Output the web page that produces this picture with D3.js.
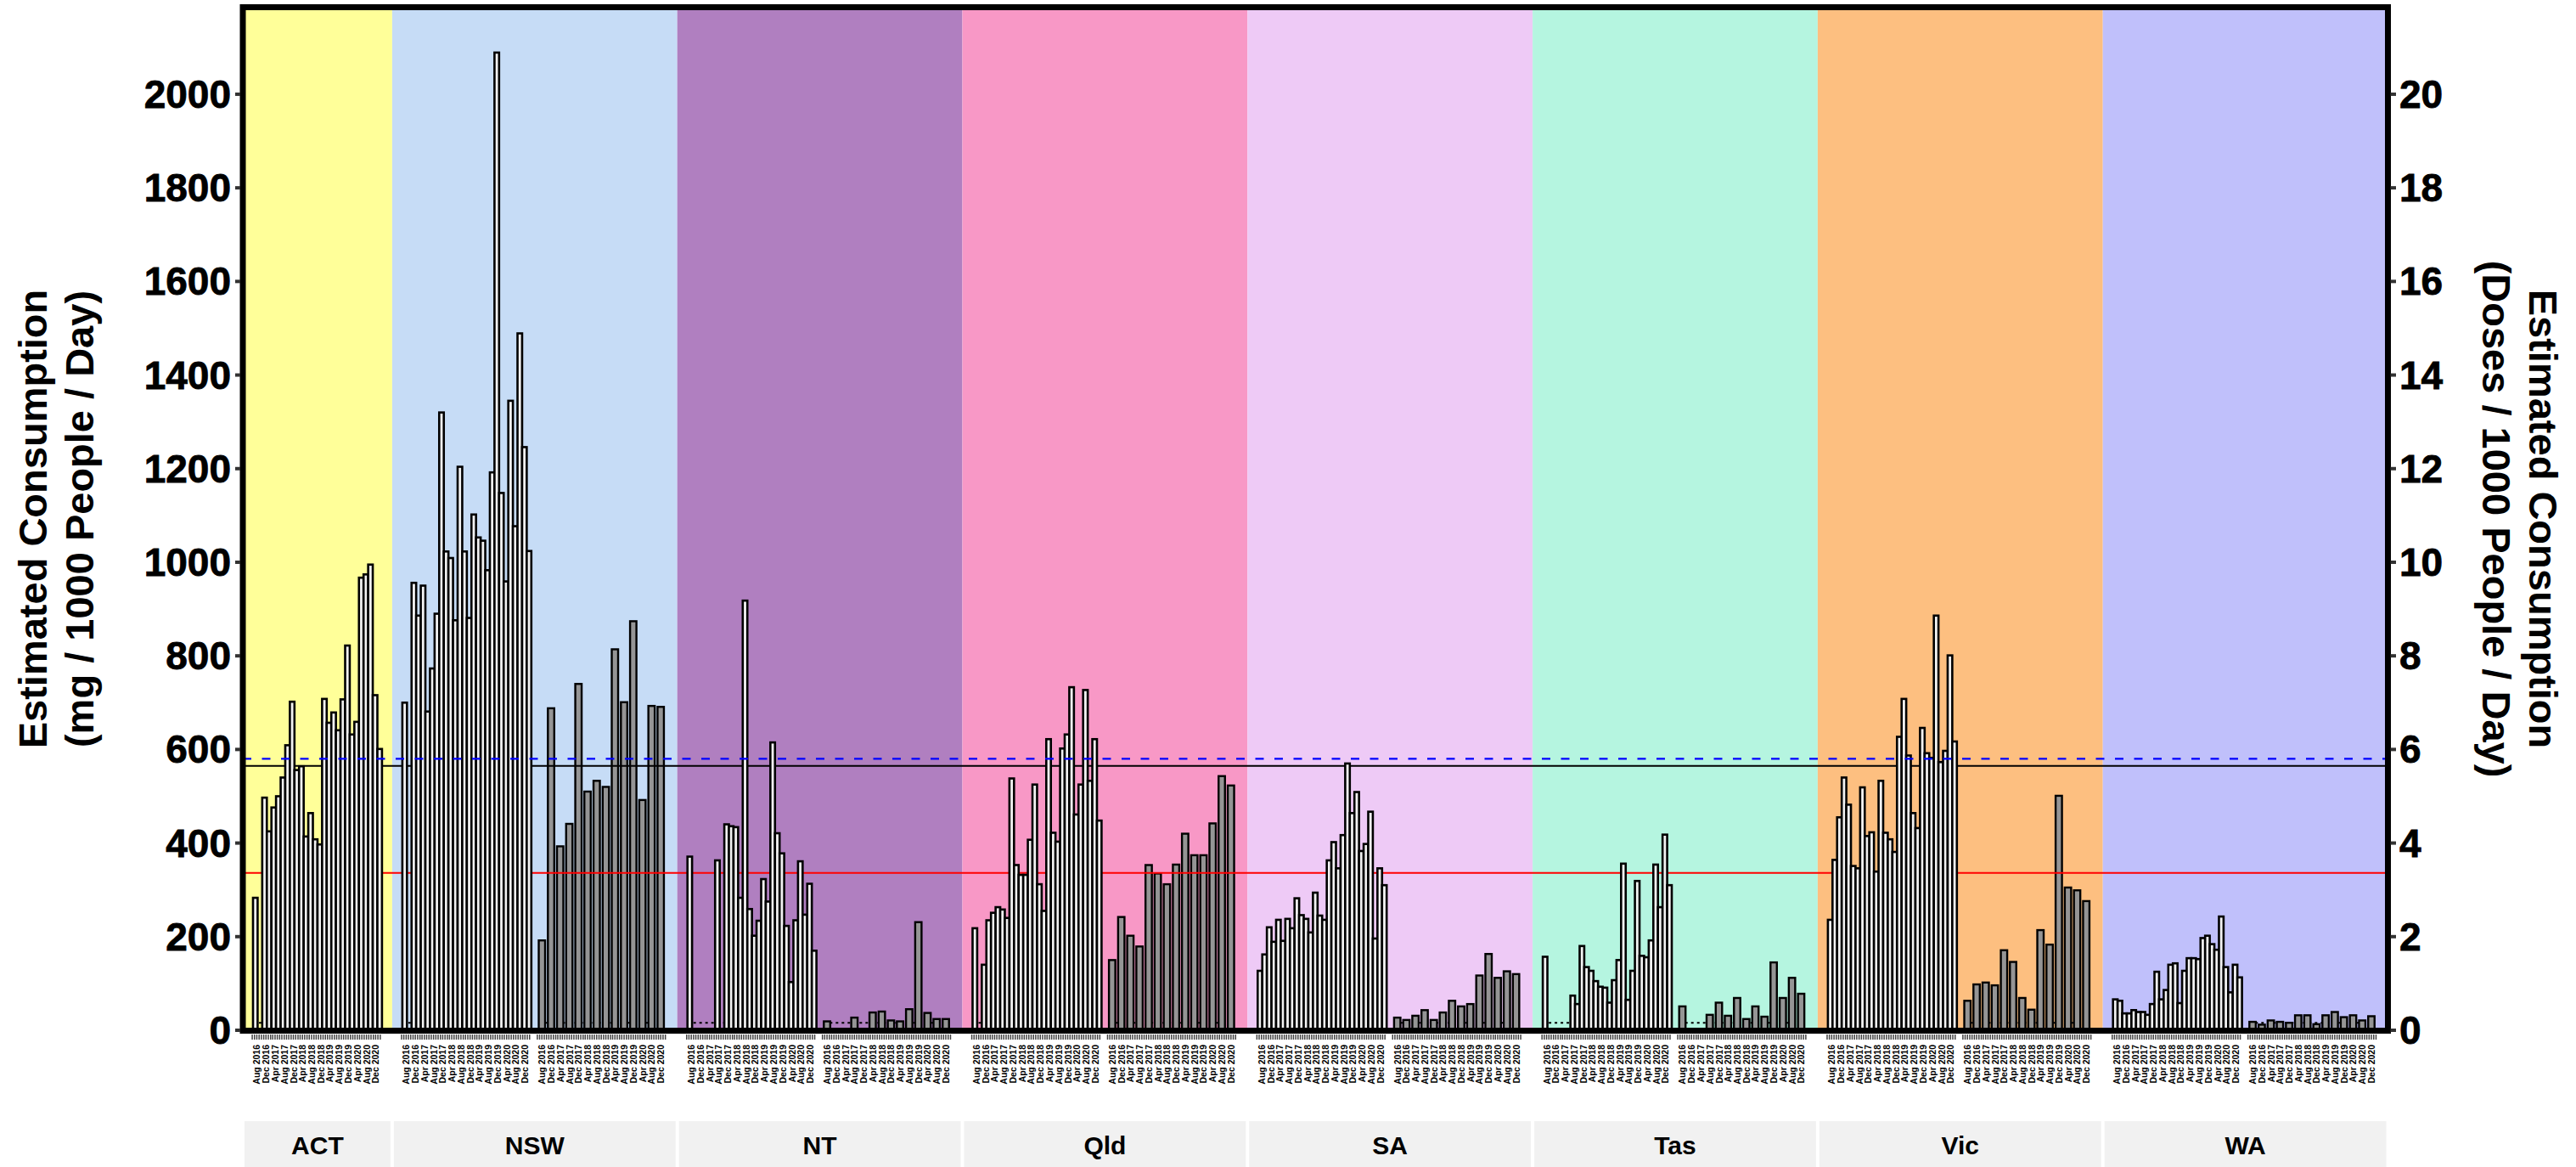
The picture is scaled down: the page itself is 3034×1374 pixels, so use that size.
<!DOCTYPE html>
<html><head><meta charset="utf-8">
<script src="https://cdn.jsdelivr.net/npm/d3@7"></script>
<style>
body{margin:0;background:#fff}
svg{display:block}
text{font-family:"Liberation Sans",Arial,sans-serif;font-weight:bold;fill:#000}
</style>
</head><body>
<svg id="chart" width="3034" height="1374"></svg>
<script>
// ---------------- DATA ----------------
const states = ["ACT", "NSW", "NT", "Qld", "SA", "Tas", "Vic", "WA"];
const stateColors = ["#FFFF99", "#C6DCF6", "#B07FC0", "#F898C6", "#EECAF6", "#B5F5E0", "#FDBF80", "#C0C0FB"];
const dateLabels = ["Aug 2016", "Dec 2016", "Apr 2017", "Aug 2017", "Dec 2017", "Apr 2018", "Aug 2018",
  "Dec 2018", "Apr 2019", "Aug 2019", "Dec 2019", "Apr 2020", "Aug 2020", "Dec 2020"];
const leftTicks = [0, 200, 400, 600, 800, 1000, 1200, 1400, 1600, 1800, 2000];
const rightTicks = [0, 2, 4, 6, 8, 10, 12, 14, 16, 18, 20];

// capital-city style series (white bars), ~bimonthly samples
const whiteACT = [283, null, 497, 425, 476, 500, 540, 609, 702, 556, 564, 414, 464, 408, 397, 708, 657, 679, 641, 707, 822, 632, 659, 967, 974, 995, 716, 601];
const whiteNSW = [700, null, 956, 886, 950, 681, 773, 890, 1320, 1023, 1009, 876, 1204, 1023, 881, 1102, 1053, 1046, 983, 1192, 2089, 1148, 959, 1345, 1077, 1489, 1246, 1024];
const whiteNT  = [371, null, null, null, null, null, 363, null, 440, 436, 434, 283, 918, 259, 202, 234, 323, 275, 615, 421, 378, 223, 103, 235, 361, 247, 313, 170];
const whiteQld = [218, null, 140, 235, 251, 263, 258, 240, 538, 353, 332, 332, 407, 525, 312, 255, 622, 422, 403, 602, 632, 733, 461, 525, 727, 533, 622, 448];
const whiteSA  = [127, 162, 220, 189, 236, 191, 238, 218, 282, 246, 238, 209, 294, 245, 236, 363, 402, 346, 417, 570, 464, 509, 383, 398, 467, 196, 346, 310];
const whiteTas = [157, null, null, null, null, null, 74, 56, 180, 135, 127, 105, 93, 91, 59, 107, 150, 356, 65, 127, 319, 159, 156, 192, 354, 263, 418, 310];
const whiteVic = [236, 364, 455, 540, 482, 351, 346, 519, 415, 423, 339, 533, 422, 408, 381, 627, 708, 587, 464, 432, 646, 592, 582, 886, 573, 597, 801, 617];
const whiteWA  = [66, 63, 36, 36, 43, 39, 39, 33, 56, 125, 66, 86, 140, 143, 58, 127, 154, 154, 152, 197, 202, 184, 172, 243, 135, 81, 140, 113];

// regional series (grey bars), one sample per labelled date
const greyACT = [];
const greyNSW = [192, 688, 393, 441, 740, 510, 533, 520, 814, 701, 874, 492, 693, 691];
const greyNT  = [19, null, null, 27, null, 38, 40, 21, 19, 45, 231, 37, 24, 24];
const greyQld = [150, 242, 202, 179, 353, 335, 312, 354, 420, 374, 374, 442, 543, 523];
const greySA  = [27, 22, 31, 43, 22, 38, 63, 51, 56, 117, 163, 112, 126, 120];
const greyTas = [51, null, null, 33, 59, 31, 69, 24, 51, 29, 145, 69, 112, 78];
const greyVic = [63, 98, 102, 96, 171, 146, 69, 44, 214, 183, 501, 305, 299, 276];
const greyWA  = [18, 12, 21, 18, 16, 32, 32, 13, 32, 39, 28, 32, 21, 30];

const refRed = 336, refBlack = 565, refBlue = 580, lowLimit = 16;

const whiteSeries = [whiteACT, whiteNSW, whiteNT, whiteQld, whiteSA, whiteTas, whiteVic, whiteWA];
const greySeries  = [greyACT, greyNSW, greyNT, greyQld, greySA, greyTas, greyVic, greyWA];

// ---------------- LAYOUT ----------------
const svg = d3.select("#chart");
const L = 286, R = 2812.5, T = 8.5, B = 1213.5;
const parse = d3.timeParse("%b %Y");
const labelDates = dateLabels.map(parse);

const y = d3.scaleLinear().domain([0, 2185]).range([1213, 9]);
const y2 = d3.scaleLinear().domain([0, 21.85]).range([1213, 9]);

const panelUnits = greySeries.map(g => g.length ? 2.1 : 1.1);
const panelStart = [];
panelUnits.reduce((acc, u, i) => { panelStart[i] = acc; return acc + u; }, 0);
const totalUnits = d3.sum(panelUnits);
const xU = d3.scaleLinear().domain([0, totalUnits]).range([L, R]);

const gBg = svg.append("g"), gUnder = svg.append("g"), gBars = svg.append("g"), gOver = svg.append("g"), gAxes = svg.append("g");

states.forEach((s, i) => {
  const p0 = panelStart[i], p1 = p0 + panelUnits[i];
  gBg.append("rect").attr("x", xU(p0)).attr("y", T).attr("width", xU(p1) - xU(p0)).attr("height", B - T)
    .attr("fill", stateColors[i]);
  // strip label
  gBg.append("rect").attr("x", xU(p0) + 2).attr("y", 1320).attr("width", xU(p1) - xU(p0) - 4).attr("height", 60)
    .attr("fill", "#F1F1F1");
  gBg.append("text").attr("x", (xU(p0) + xU(p1)) / 2).attr("y", 1348).attr("text-anchor", "middle")
    .attr("dominant-baseline", "central").attr("font-size", 30).text(s);

  const groups = [{vals: whiteSeries[i], kind: "white"}];
  if (greySeries[i].length) groups.push({vals: greySeries[i], kind: "grey"});
  groups.forEach((grp, k) => {
    const gs = p0 + k;
    const t = d3.scaleTime().domain([labelDates[0], labelDates[labelDates.length - 1]])
      .range([xU(gs + 0.103), xU(gs + 0.978)]);
    // minor month ticks
    const months = d3.timeMonth.range(new Date(2016, 5, 1), new Date(2021, 2, 1));
    gAxes.selectAll(null).data(months).enter().append("line")
      .attr("x1", d => t(d)).attr("x2", d => t(d)).attr("y1", 1218).attr("y2", 1224)
      .attr("stroke", "#444").attr("stroke-width", 1.5);
    // date labels
    gAxes.selectAll(null).data(labelDates).enter().append("text")
      .attr("transform", (d) => `translate(${t(d)},1230) rotate(-90)`)
      .attr("text-anchor", "end").attr("dominant-baseline", "central").attr("font-size", 10.5)
      .text((d, j) => dateLabels[j]);

    if (grp.kind === "white") {
      const xb = d3.scaleBand().domain(d3.range(grp.vals.length)).range([xU(gs + 0.075), xU(gs + 1.025)]).padding(0);
      gUnder.append("line").attr("x1", xU(gs + 0.075)).attr("x2", xU(gs + 1.025))
        .attr("y1", y(lowLimit)).attr("y2", y(lowLimit)).attr("stroke", "#000").attr("stroke-width", 2)
        .attr("stroke-dasharray", "3,4");
      gBars.selectAll(null).data(grp.vals.map((v, j) => ({v, j})).filter(d => d.v != null)).enter().append("rect")
        .attr("x", d => xb(d.j)).attr("width", xb.bandwidth())
        .attr("y", d => y(d.v)).attr("height", d => y(0) - y(d.v))
        .attr("fill", "#F2F2F2").attr("stroke", "#000").attr("stroke-width", 2.6);
    } else {
      const bw = 7.5;
      gUnder.append("line").attr("x1", t(labelDates[0]) - bw / 2).attr("x2", t(labelDates[labelDates.length - 1]) + bw / 2)
        .attr("y1", y(lowLimit)).attr("y2", y(lowLimit)).attr("stroke", "#000").attr("stroke-width", 2)
        .attr("stroke-dasharray", "3,4");
      gUnder.selectAll(null).data(grp.vals.map((v, j) => ({v, d: labelDates[j]})).filter(d => d.v != null)).enter().append("rect")
        .attr("x", d => t(d.d) - bw / 2).attr("width", bw)
        .attr("y", d => y(d.v)).attr("height", d => y(0) - y(d.v))
        .attr("fill", "#959595").attr("stroke", "#000").attr("stroke-width", 2.4);
    }
  });
});

// reference lines
gUnder.append("line").attr("x1", L).attr("x2", R).attr("y1", y(refRed)).attr("y2", y(refRed))
  .attr("stroke", "#FF0000").attr("stroke-width", 2);
gUnder.append("line").attr("x1", L).attr("x2", R).attr("y1", y(refBlack)).attr("y2", y(refBlack))
  .attr("stroke", "#000").attr("stroke-width", 2);
gOver.append("line").attr("x1", L).attr("x2", R).attr("y1", y(refBlue)).attr("y2", y(refBlue))
  .attr("stroke", "#0000FF").attr("stroke-width", 2.2).attr("stroke-dasharray", "10,12.5");

// frame
gAxes.append("rect").attr("x", L).attr("y", T).attr("width", R - L).attr("height", B - T)
  .attr("fill", "none").attr("stroke", "#000").attr("stroke-width", 7);

// left axis
gAxes.selectAll(null).data(leftTicks).enter().append("line")
  .attr("x1", 277).attr("x2", L - 3).attr("y1", d => y(d)).attr("y2", d => y(d))
  .attr("stroke", "#333").attr("stroke-width", 4);
gAxes.selectAll(null).data(leftTicks).enter().append("text")
  .attr("x", 272).attr("y", d => y(d)).attr("text-anchor", "end").attr("dominant-baseline", "central")
  .attr("font-size", 46).attr("stroke", "#000").attr("stroke-width", 0.8).text(d => d);
// right axis
gAxes.selectAll(null).data(rightTicks).enter().append("line")
  .attr("x1", R + 3).attr("x2", 2822).attr("y1", d => y2(d)).attr("y2", d => y2(d))
  .attr("stroke", "#333").attr("stroke-width", 4);
gAxes.selectAll(null).data(rightTicks).enter().append("text")
  .attr("x", 2826).attr("y", d => y2(d)).attr("text-anchor", "start").attr("dominant-baseline", "central")
  .attr("font-size", 46).attr("stroke", "#000").attr("stroke-width", 0.8).text(d => d);

// axis titles
const midY = (T + B) / 2;
gAxes.append("text").attr("transform", `translate(38,${midY}) rotate(-90)`).attr("text-anchor", "middle")
  .attr("dominant-baseline", "central").attr("font-size", 47).text("Estimated Consumption");
gAxes.append("text").attr("transform", `translate(93,${midY}) rotate(-90)`).attr("text-anchor", "middle")
  .attr("dominant-baseline", "central").attr("font-size", 47).text("(mg / 1000 People / Day)");
gAxes.append("text").attr("transform", `translate(2995,${midY}) rotate(90)`).attr("text-anchor", "middle")
  .attr("dominant-baseline", "central").attr("font-size", 47).text("Estimated Consumption");
gAxes.append("text").attr("transform", `translate(2940,${midY}) rotate(90)`).attr("text-anchor", "middle")
  .attr("dominant-baseline", "central").attr("font-size", 47).text("(Doses / 1000 People / Day)");
</script>
</body></html>
